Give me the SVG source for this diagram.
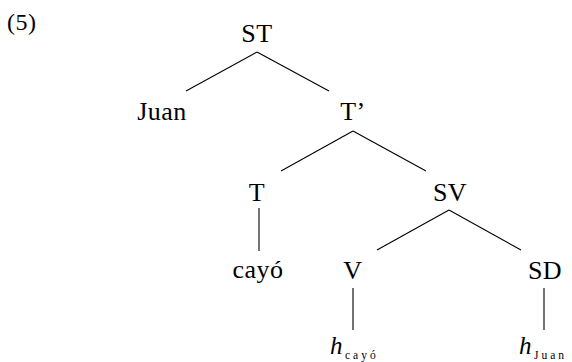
<svg xmlns="http://www.w3.org/2000/svg" width="572" height="362" viewBox="0 0 572 362">
<style>
.lbl{font-family:"Liberation Serif","DejaVu Serif",serif;font-size:26px;fill:#000;text-anchor:middle;letter-spacing:0.5px}
.it{font-family:"Liberation Serif","DejaVu Serif",serif;font-style:italic;font-size:25px;fill:#000}
.sub{font-family:"Liberation Serif","DejaVu Serif",serif;font-size:11.5px;fill:#000;letter-spacing:3px}
.edge{stroke:#000;stroke-width:1.1;fill:none}
</style>
<rect width="572" height="362" fill="#fff"/>
<text x="7" y="30" style="font-family:'Liberation Serif','DejaVu Serif',serif;font-size:24px;letter-spacing:0.5px">(5)</text>
<g id="connectors">
<line class="edge" x1="257" y1="52" x2="186" y2="91"/>
<line class="edge" x1="257" y1="52" x2="329" y2="91"/>
<line class="edge" x1="353" y1="131" x2="281" y2="171"/>
<line class="edge" x1="353" y1="131" x2="426" y2="171"/>
<line class="edge" x1="259" y1="208" x2="259" y2="251"/>
<line class="edge" x1="449" y1="210" x2="377" y2="250"/>
<line class="edge" x1="449" y1="210" x2="521" y2="250"/>
<line class="edge" x1="353" y1="288" x2="353" y2="330"/>
<line class="edge" x1="544" y1="288" x2="544" y2="330"/>
</g>
<g id="ST"><text class="lbl" x="257" y="42">ST</text></g>
<g id="Juan"><text class="lbl" x="162" y="120">Juan</text></g>
<g id="Tbar"><text class="lbl" x="353" y="120">T’</text></g>
<g id="T"><text class="lbl" x="257" y="201">T</text></g>
<g id="SV"><text class="lbl" x="450" y="201">SV</text></g>
<g id="cayo"><text class="lbl" x="258" y="278">cayó</text></g>
<g id="V"><text class="lbl" x="353" y="279">V</text></g>
<g id="SD"><text class="lbl" x="545" y="279">SD</text></g>
<g id="h_cayo"><text class="it" x="330" y="354">h</text><text class="sub" x="345" y="359">cayó</text></g>
<g id="h_Juan"><text class="it" x="519" y="354">h</text><text class="sub" x="534" y="359">Juan</text></g>
</svg>
